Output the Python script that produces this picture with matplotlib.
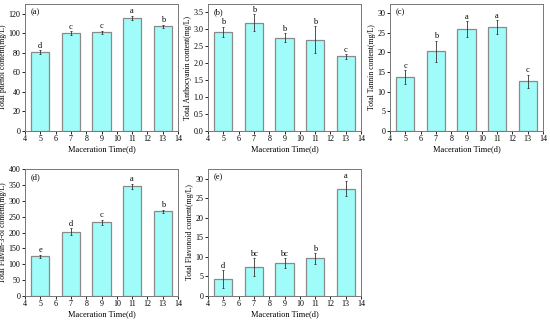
import matplotlib
matplotlib.use("Agg")
import matplotlib.pyplot as plt

plt.rcParams["font.family"] = ["Liberation Serif", "DejaVu Serif"]

days = [5, 7, 9, 11, 13]

phenol = [81, 100, 101, 116, 107]
phenol_err = [2, 2, 1.5, 2, 2]
phenol_let = ["d", "c", "c", "a", "b"]

antho = [2.93, 3.19, 2.76, 2.70, 2.20]
antho_err = [0.15, 0.25, 0.13, 0.40, 0.07]
antho_let = ["b", "b", "b", "b", "c"]

tannin = [13.7, 20.3, 26.0, 26.4, 12.6]
tannin_err = [1.8, 2.7, 2.0, 1.8, 1.7]
tannin_let = ["c", "b", "a", "a", "c"]

flavan = [125, 203, 232, 346, 267]
flavan_err = [5, 10, 8, 8, 5]
flavan_let = ["e", "d", "c", "a", "b"]

flavo = [4.3, 7.4, 8.4, 9.6, 27.5]
flavo_err = [2.3, 2.3, 1.3, 1.3, 2.0]
flavo_let = ["d", "bc", "bc", "b", "a"]

W, H = 550, 322
fig = plt.figure(figsize=(5.5, 3.22), dpi=100)

def box(left, right, top, bottom):
    return [left / W, (H - bottom) / H, (right - left) / W, (bottom - top) / H]

panels = [
    (box(25, 178, 4, 131), phenol, phenol_err, phenol_let, "(a)", "Total phenol content(mg/L)", (0, 130), [0, 20, 40, 60, 80, 100, 120], "{:.0f}"),
    (box(208, 361, 4, 131), antho, antho_err, antho_let, "(b)", "Total Anthocyanin content(mg/L)", (0, 3.75), [0, 0.5, 1.0, 1.5, 2.0, 2.5, 3.0, 3.5], "{:.1f}"),
    (box(390, 543, 4, 131), tannin, tannin_err, tannin_let, "(c)", "Total Tannin content(mg/L)", (0, 32.3), [0, 5, 10, 15, 20, 25, 30], "{:.0f}"),
    (box(25, 178, 169, 296), flavan, flavan_err, flavan_let, "(d)", "Total Flavan-3-ol content(mg/L)", (0, 400), [0, 50, 100, 150, 200, 250, 300, 350, 400], "{:.0f}"),
    (box(208, 361, 169, 296), flavo, flavo_err, flavo_let, "(e)", "Total Flavonoid content(mg/L)", (0, 32.5), [0, 5, 10, 15, 20, 25, 30], "{:.0f}"),
]

for rect, vals, errs, lets, tag, ylab, ylim, yt, fmt in panels:
    ax = fig.add_axes(rect)
    ax.bar(days, vals, width=1.2, color="#a0fcf8", edgecolor="#8a8a8a", linewidth=0.9,
           yerr=errs, error_kw=dict(ecolor="#333333", elinewidth=0.6, capsize=1.0, capthick=0.6))
    for d, v, e, l in zip(days, vals, errs, lets):
        ax.text(d, v + e + ylim[1] * 0.003, l, ha="center", va="bottom", fontsize=6)
    ax.set_xlim(4, 14)
    ax.set_ylim(*ylim)
    ax.set_xticks(range(4, 15))
    ax.set_yticks(yt)
    ax.set_yticklabels([fmt.format(t) for t in yt])
    ax.tick_params(labelsize=5.8, length=2, width=0.6, pad=1.2)
    ax.set_xlabel("Maceration Time(d)", fontsize=6, labelpad=1.5)
    ax.set_ylabel(ylab, fontsize=5.6, labelpad=1)
    ax.text(0.04, 0.965, tag, transform=ax.transAxes, ha="left", va="top", fontsize=6)
    for s in ax.spines.values():
        s.set_color("#777777")
        s.set_linewidth(0.7)

fig.savefig("out.png", dpi=100)
